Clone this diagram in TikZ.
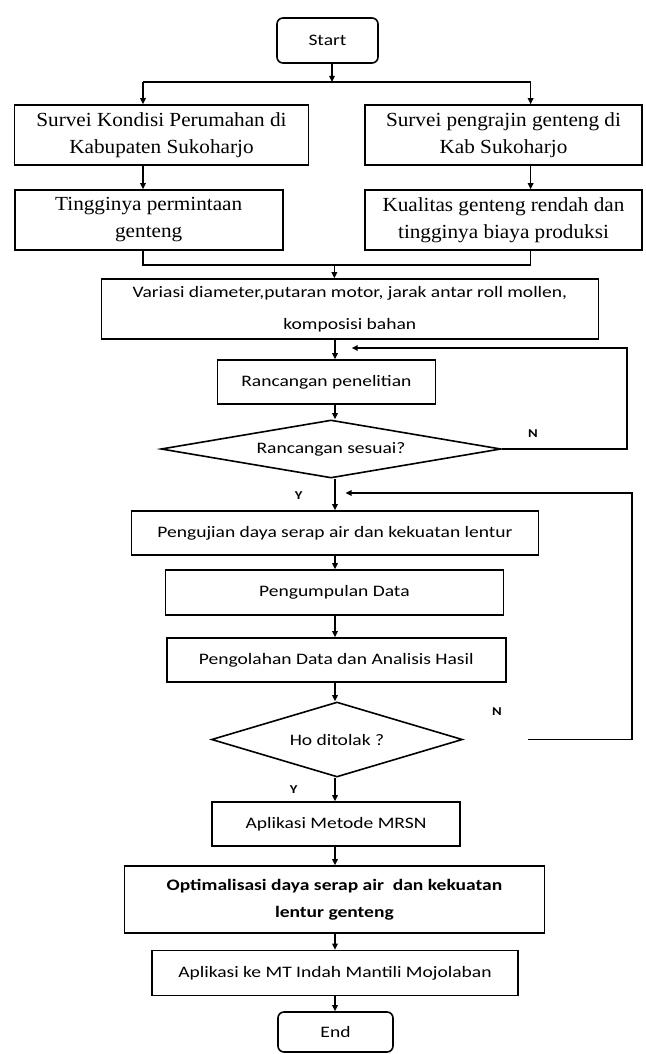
\documentclass[tikz,border=0pt]{standalone}
\usepackage{fontspec}
\setmainfont{Liberation Serif}[FakeStretch=1.06]
\newfontfamily\calib{Carlito}[FakeStretch=1.22]
\usetikzlibrary{shapes.geometric,arrows.meta}
\tikzset{
  ln/.style={line width=1.6pt, draw=black},
  arr/.style={ln, -{Triangle[length=6pt,width=5.5pt]}},
  serifbox/.style={ln, rectangle, inner sep=0pt, align=center,
    font=\fontsize{20}{27}\selectfont},
  sansbox/.style={ln, rectangle, inner sep=0pt, align=center,
    font=\calib\fontsize{16}{32}\selectfont},
  term/.style={sansbox, rounded corners=6pt},
  decision/.style={ln, diamond, inner sep=0pt, align=center,
    font=\calib\fontsize{16}{18}\selectfont},
  lbl/.style={inner sep=0pt, font=\calib\bfseries\fontsize{12}{14}\selectfont},
}
\begin{document}
\begin{tikzpicture}[x=1pt,y=-1pt]
\useasboundingbox (0,0) rectangle (645,1054);
% nodes
\node[term, minimum width=101pt, minimum height=45pt] (start) at (327.5,40.5) {Start};
\node[serifbox, minimum width=294pt, minimum height=60pt] (b1l) at (161.5,135) {Survei Kondisi Perumahan di\\Kabupaten Sukoharjo};
\node[serifbox, minimum width=277pt, minimum height=60pt] (b1r) at (503.5,135) {Survei pengrajin genteng di\\Kab Sukoharjo};
\node[serifbox, minimum width=268pt, minimum height=60pt] (b2l) at (148.7,220) {Tingginya permintaan\\genteng};
\node[serifbox, minimum width=277pt, minimum height=60pt] (b2r) at (503.5,220) {Kualitas genteng rendah dan\\tingginya biaya produksi};
\node[sansbox, minimum width=497pt, minimum height=60pt] (b3) at (349.8,309) {Variasi diameter,putaran motor, jarak antar roll mollen,\\komposisi bahan};
\node[sansbox, minimum width=218pt, minimum height=44pt] (rp) at (326.4,382) {Rancangan penelitian};
\node[decision, aspect=5.86, minimum width=340pt, minimum height=58pt] (d1) at (331,449) {Rancangan sesuai?};
\node[sansbox, minimum width=407pt, minimum height=44pt] (pj) at (335,533) {Pengujian daya serap air dan kekuatan lentur};
\node[sansbox, minimum width=338pt, minimum height=45pt] (pd) at (334.4,592.5) {Pengumpulan Data};
\node[sansbox, minimum width=339pt, minimum height=44pt] (pa) at (336.3,660) {Pengolahan Data dan Analisis Hasil};
\node[decision, aspect=3.35, minimum width=251pt, minimum height=75pt] (d2) at (337,739.5) {Ho ditolak ?};
\node[sansbox, minimum width=248pt, minimum height=44pt] (am) at (336,824) {Aplikasi Metode MRSN};
\node[sansbox, minimum width=420pt, minimum height=67pt, font=\calib\bfseries\fontsize{16}{27}\selectfont] (op) at (334.4,899.5) {Optimalisasi daya serap air\ \ dan kekuatan\\lentur genteng};
\node[sansbox, minimum width=366pt, minimum height=45pt] (ak) at (335,973) {Aplikasi ke MT Indah Mantili Mojolaban};
\node[term, minimum width=115pt, minimum height=40pt] (end) at (335.5,1032) {End};
% labels
\node[lbl] (n1) at (533,434) {N};
\node[lbl] (y1) at (298.6,496) {Y};
\node[lbl] (n2) at (497,712) {N};
\node[lbl] (y2) at (293.7,790) {Y};
% helper coordinates
\coordinate (xl) at (143,0);
\coordinate (xr) at (530.6,0);
\coordinate (ax) at (335,0);
\coordinate (jt) at (332,82);
\coordinate (jb) at (334.4,265);
\coordinate (r1) at (627,0);
\coordinate (f1) at (351.7,348);
\coordinate (g2) at (528,739.5);
\coordinate (r2) at (632,0);
\coordinate (f2) at (345.5,493);
% connectors
\draw[arr] (start.south -| jt) -- (jt);
\draw[ln] (xl |- jt) -- (xr |- jt);
\draw[arr] (xl |- jt) -- (b1l.north -| xl);
\draw[arr] (xr |- jt) -- (b1r.north -| xr);
\draw[arr] (b1l.south -| xl) -- (b2l.north -| xl);
\draw[arr] (b1r.south -| xr) -- (b2r.north -| xr);
\draw[ln] (b2l.south -| xl) -- (xl |- jb) -- (xr |- jb) -- (b2r.south -| xr);
\draw[arr] (jb) -- (b3.north -| jb);
\draw[arr] (b3.south -| ax) -- (rp.north -| ax);
\draw[arr] (rp.south -| ax) -- (d1.north -| ax);
\draw[arr] (d1.east) -| (r1 |- f1) -- (f1);
\draw[arr] (d1.south -| ax) -- (pj.north -| ax);
\draw[arr] (g2) -| (r2 |- f2) -- (f2);
\draw[arr] (pj.south -| ax) -- (pd.north -| ax);
\draw[arr] (pd.south -| ax) -- (pa.north -| ax);
\draw[arr] (pa.south -| ax) -- (d2.north -| ax);
\draw[arr] (d2.south -| ax) -- (am.north -| ax);
\draw[arr] (am.south -| ax) -- (op.north -| ax);
\draw[arr] (op.south -| ax) -- (ak.north -| ax);
\draw[arr] (ak.south -| ax) -- (end.north -| ax);
\end{tikzpicture}
\end{document}
